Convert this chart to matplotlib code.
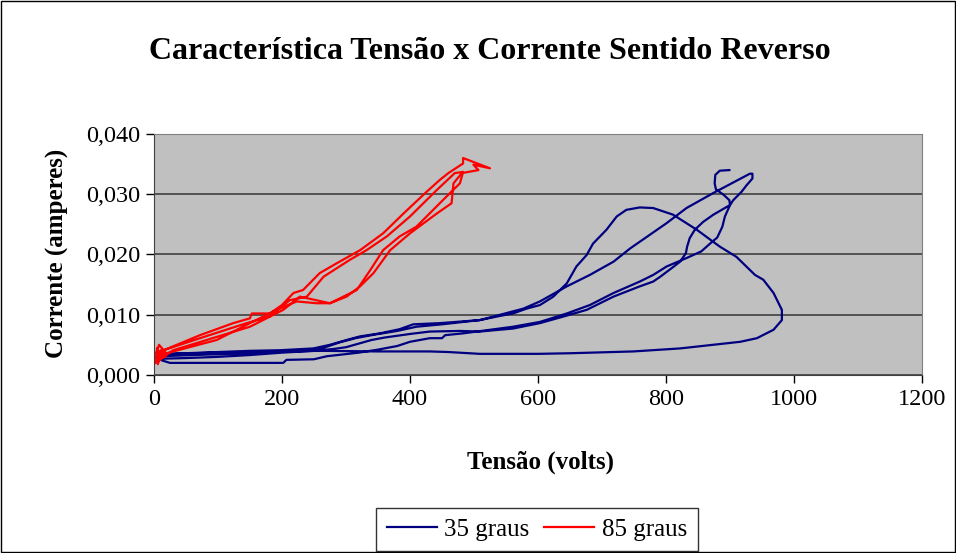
import matplotlib
matplotlib.use("Agg")
import matplotlib.pyplot as plt
from matplotlib.patches import Rectangle

plt.rcParams["font.family"] = ["Liberation Serif", "DejaVu Serif"]

# 35 graus: tensao (V) e corrente (A), um unico trajeto
v35 = [899, 884, 877, 876, 878, 890, 899, 900, 892, 888, 880, 871, 855, 832, 801, 780,
       759, 718, 681, 645, 603, 561, 483, 455, 450, 431, 400, 380, 350, 320, 270, 250,
       207, 202, 100, 25, 10, 4,
       10, 50, 100, 150, 197, 249, 275, 301, 322, 353, 384, 405, 447, 509,
       541, 561, 582, 603, 624, 645, 660, 676, 686, 707, 723, 738, 759, 780, 811, 848,
       884, 910, 939, 952, 968, 981, 981, 968, 942, 916, 822, 749, 650, 600, 509, 460,
       431, 350, 260, 200, 100, 20, 8,
       10, 60, 120, 180, 240, 265, 290, 315, 345, 380, 410, 450, 509, 541, 577, 603,
       645, 681, 718, 744, 801, 832, 874, 931, 935, 935, 926, 918, 905, 900, 874, 858,
       845, 837, 833, 831, 822, 811, 791, 780, 759, 718, 676, 640, 603, 561, 509, 478,
       431, 400, 380, 360, 340, 320, 300, 280, 250, 200, 150, 100, 50, 15]
i35 = [0.0340, 0.0339, 0.0332, 0.0318, 0.0308, 0.0299, 0.0290, 0.0282, 0.0263, 0.0246,
       0.0228, 0.0220, 0.0205, 0.0194, 0.0180, 0.0166, 0.0155, 0.0136, 0.0116, 0.0102,
       0.0088, 0.0080, 0.0069, 0.0066, 0.0061, 0.0061, 0.0055, 0.0048, 0.0042, 0.0037,
       0.0031, 0.0026, 0.0025, 0.0020, 0.0020, 0.0020, 0.0025, 0.0030,
       0.0034, 0.0036, 0.0038, 0.0040, 0.0041, 0.0044, 0.0050, 0.0058, 0.0064, 0.0069,
       0.0076, 0.0084, 0.0086, 0.0091,
       0.0098, 0.0102, 0.0110, 0.0116, 0.0130, 0.0152, 0.0180, 0.0199, 0.0218, 0.0241,
       0.0263, 0.0274, 0.0278, 0.0277, 0.0266, 0.0241, 0.0213, 0.0196, 0.0166, 0.0158,
       0.0136, 0.0108, 0.0091, 0.0075, 0.0061, 0.0055, 0.0044, 0.0039, 0.0036, 0.0035,
       0.0035, 0.0038, 0.0039, 0.0039, 0.0040, 0.0039, 0.0037, 0.0035, 0.0032,
       0.0031, 0.0033, 0.0035, 0.0038, 0.0041, 0.0045, 0.0054, 0.0061, 0.0067, 0.0073,
       0.0080, 0.0084, 0.0091, 0.0100, 0.0110, 0.0122, 0.0147, 0.0166, 0.0188, 0.0210,
       0.0252, 0.0277, 0.0302, 0.0334, 0.0334, 0.0326, 0.0315, 0.0304, 0.0290, 0.0282,
       0.0266, 0.0254, 0.0241, 0.0227, 0.0213, 0.0202, 0.0188, 0.0179, 0.0163, 0.0155,
       0.0147, 0.0130, 0.0108, 0.0097, 0.0086, 0.0077, 0.0072, 0.0073, 0.0072, 0.0068,
       0.0065, 0.0062, 0.0058, 0.0052, 0.0046, 0.0043, 0.0040, 0.0037, 0.0033, 0.0030,
       0.0028, 0.0027]

# 85 graus
v85 = [2, 5, 10, 15, 3, 20, 8, 4,
       72, 124, 150, 153, 181, 200, 218, 233, 259, 285, 322, 358, 390, 426, 447, 460, 483,
       483, 525, 499, 507, 481,
       468, 465, 442, 400, 369, 343, 322, 301, 275, 254, 223, 192, 150, 98, 9,
       6, 12, 3, 18, 9,
       72, 145, 181, 212, 239, 265, 306, 332, 364, 400, 442, 470, 483,
       478, 457, 410, 384, 358, 338, 317, 275, 228, 202, 150, 30, 5, 14, 2]
i85 = [0.0020, 0.0045, 0.0025, 0.0040, 0.0030, 0.0035, 0.0050, 0.0036,
       0.0066, 0.0086, 0.0094, 0.0102, 0.0102, 0.0116, 0.0136, 0.0141, 0.0169, 0.0185,
       0.0207, 0.0235, 0.0268, 0.0304, 0.0324, 0.0335, 0.0351,
       0.0360, 0.0343, 0.0349, 0.0340, 0.0335,
       0.0318, 0.0285, 0.0268, 0.0235, 0.0207, 0.0169, 0.0147, 0.0130, 0.0119, 0.0119,
       0.0122, 0.0108, 0.0086, 0.0058, 0.0033,
       0.0018, 0.0042, 0.0028, 0.0030, 0.0039,
       0.0061, 0.0086, 0.0097, 0.0124, 0.0130, 0.0163, 0.0191, 0.0207, 0.0230, 0.0263,
       0.0307, 0.0335, 0.0337,
       0.0318, 0.0296, 0.0246, 0.0230, 0.0207, 0.0174, 0.0141, 0.0119, 0.0130, 0.0108,
       0.0080, 0.0041, 0.0022, 0.0034, 0.0028]

x_ticks = [0, 200, 400, 600, 800, 1000, 1200]
y_ticks = [0.0, 0.01, 0.02, 0.03, 0.04]
y_labels = ["0,000", "0,010", "0,020", "0,030", "0,040"]

fig = plt.figure(figsize=(9.56, 5.53), dpi=100)
ax = fig.add_axes([0.161, 0.322, 0.8035, 0.4358])
ax.set_facecolor("#C0C0C0")

ax.plot(v35, i35, color="#000080", lw=1.6, label="35 graus")
ax.plot(v85, i85, color="#FF0000", lw=1.6, label="85 graus")

ax.set_xlim(0, 1200)
ax.set_ylim(0, 0.04)
ax.set_xticks(x_ticks)
ax.set_yticks(y_ticks)
ax.set_yticklabels(y_labels)
ax.tick_params(labelsize=17.5, direction="out", length=6, width=1, colors="black", pad=4)
ax.grid(axis="y", color="#404040", lw=1.2)
ax.set_axisbelow(True)
for side in ["top", "right"]:
    ax.spines[side].set_color("#808080")
for side in ["left", "bottom"]:
    ax.spines[side].set_color("#404040")

fig.text(0.5125, 0.906, "Característica Tensão x Corrente Sentido Reverso",
         ha="center", va="center", fontsize=23, fontweight="bold")
fig.text(0.565, 0.1646, "Tensão (volts)", ha="center", va="center",
         fontsize=18, fontweight="bold")
fig.text(0.0605, 0.5425, "Corrente (amperes)", ha="center", va="center",
         rotation=90, fontsize=18, fontweight="bold")

leg = fig.legend(loc="center", bbox_to_anchor=(0.5617, 0.0425), ncol=2,
                 fontsize=18, frameon=True, fancybox=False, edgecolor="black",
                 handlelength=2.0, handletextpad=0.3, columnspacing=0.6,
                 borderpad=0.42, borderaxespad=0)
leg.get_frame().set_linewidth(1)

fig.patches.append(Rectangle((0.001, 0.001), 0.998, 0.997, transform=fig.transFigure,
                             fill=False, edgecolor="black", lw=1))

fig.savefig("out.png", dpi=100)
